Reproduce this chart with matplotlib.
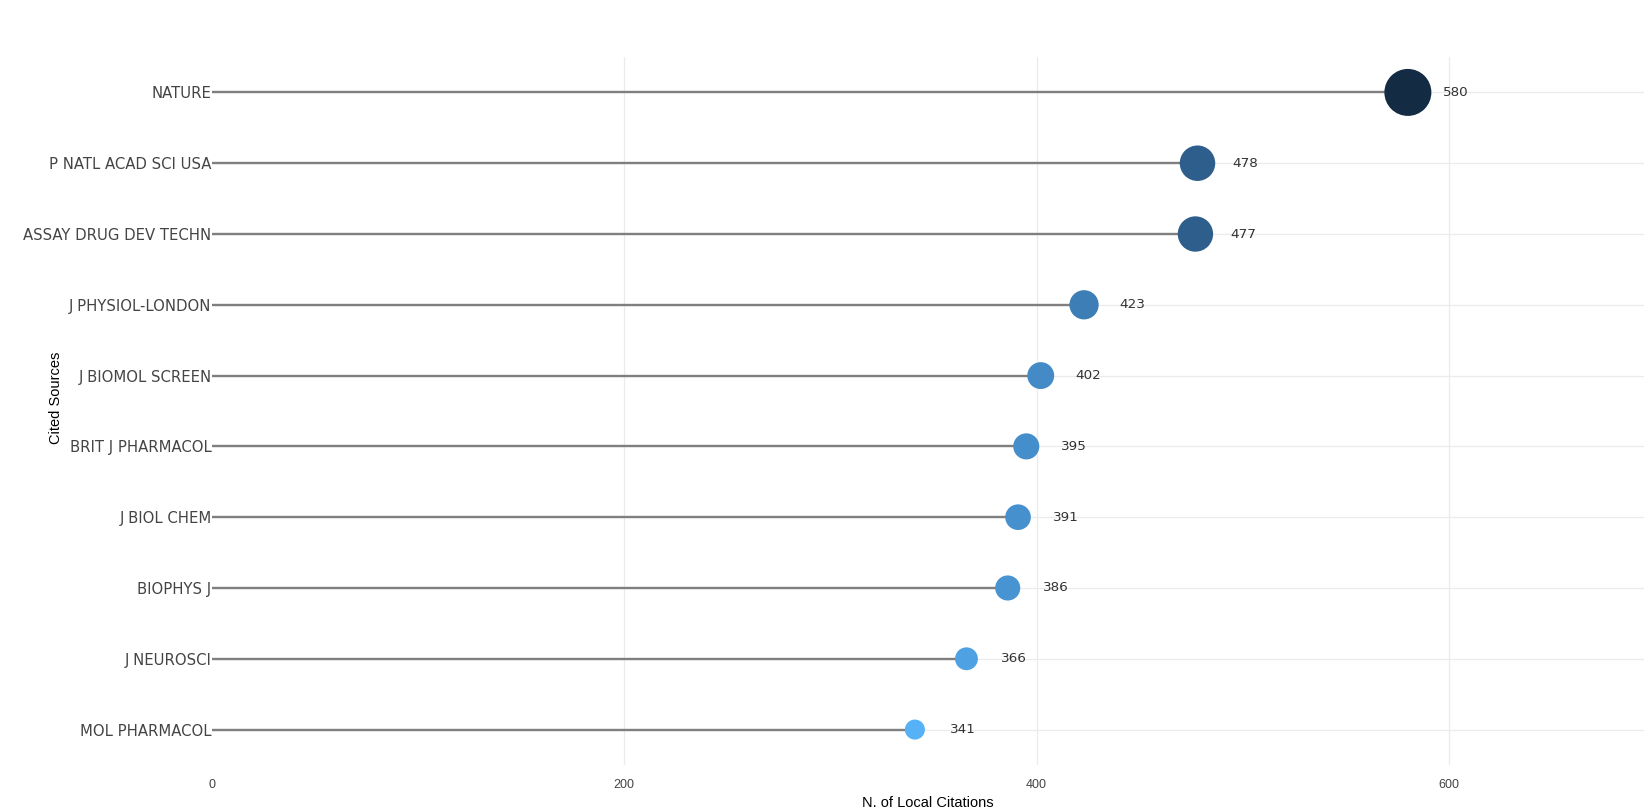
import matplotlib
matplotlib.use("Agg")
import matplotlib.pyplot as plt
import numpy as np
from matplotlib.colors import LinearSegmentedColormap

sources = ["NATURE", "P NATL ACAD SCI USA", "ASSAY DRUG DEV TECHN", "J PHYSIOL-LONDON",
           "J BIOMOL SCREEN", "BRIT J PHARMACOL", "J BIOL CHEM", "BIOPHYS J",
           "J NEUROSCI", "MOL PHARMACOL"]
citations = [580, 478, 477, 423, 402, 395, 391, 386, 366, 341]
x_ticks = [0, 200, 400, 600]

fig = plt.figure(figsize=(16.5, 8.1), dpi=100)
ax = fig.add_axes([0.1282, 0.0556, 0.8682, 0.8740])

n = len(sources)
ypos = np.arange(n)[::-1]
vals = np.array(citations, dtype=float)
vmin, vmax = vals.min(), vals.max()
t = (vals - vmin) / (vmax - vmin)

cmap = LinearSegmentedColormap.from_list("g", [(0, "#56B1F7"), (0.21, "#4690CE"), (0.573, "#2E5E8B"), (1.0, "#132B43")])
diam_px = 20 + t * 27
sizes = (diam_px * 72 / 100) ** 2

for y in ypos:
    ax.axhline(y, color="#ebebeb", lw=0.9, zorder=0)
for xt in x_ticks[1:]:
    ax.axvline(xt, color="#ebebeb", lw=0.9, zorder=0)

ax.hlines(ypos, 0, vals, color="#7f7f7f", lw=1.7, zorder=1)
ax.scatter(vals, ypos, s=sizes, c=cmap(t), zorder=2, linewidths=0)
for v, y in zip(vals, ypos):
    ax.annotate(f"{int(v)}", (v, y), xytext=(34.5, 0), textcoords="offset points",
                ha="center", va="center", fontsize=9.7, color="#333333",
                family="DejaVu Sans")

ax.set_xlim(0, 694.5)
ax.set_ylim(-0.5, n - 0.5)
ax.set_yticks(ypos)
ax.set_yticklabels(sources, fontsize=10.7, color="#444444", family="DejaVu Sans")
ax.set_xticks(x_ticks)
ax.set_xticklabels([str(x) for x in x_ticks], fontsize=9, color="#444444", family="Liberation Sans")
ax.tick_params(axis="y", length=0, pad=0)
ax.tick_params(axis="x", length=0, pad=10)
for s in ax.spines.values():
    s.set_visible(False)

ax.set_xlabel("N. of Local Citations", fontsize=10.5, color="#000000", family="Liberation Sans", va="center")
ax.xaxis.set_label_coords(0.5, -0.054)
ax.set_ylabel("Cited Sources", fontsize=10.5, color="#000000", family="Liberation Sans", va="center")
ax.yaxis.set_label_coords(-0.1086, 0.518)

fig.savefig("out.png", dpi=100, facecolor="white")
